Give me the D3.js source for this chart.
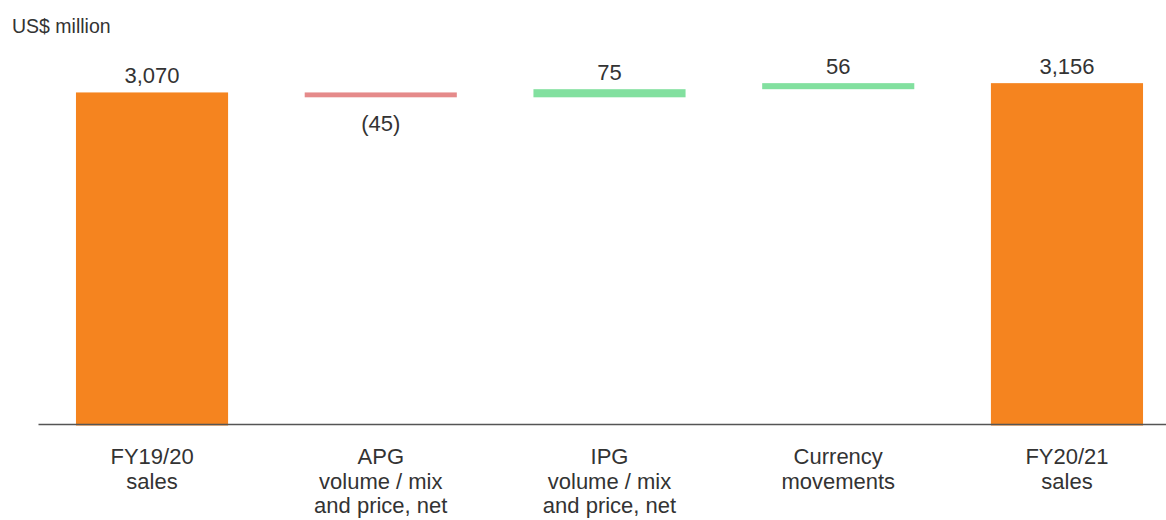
<!DOCTYPE html>
<html>
<head>
<meta charset="utf-8">
<script src="https://cdn.jsdelivr.net/npm/d3@7"></script>
<style>
  body { margin: 0; background: #fff; }
  svg { display: block; font-family: "Liberation Sans", Arial, Helvetica, sans-serif; }
</style>
</head>
<body>
<div id="chart"></div>
<script>
const categories = [
  ["FY19/20", "sales"],
  ["APG", "volume / mix", "and price, net"],
  ["IPG", "volume / mix", "and price, net"],
  ["Currency", "movements"],
  ["FY20/21", "sales"]
];
const values = [3070, -45, 75, 56, 3156];
const kinds = ["total", "delta", "delta", "delta", "total"];
const valueLabels = ["3,070", "(45)", "75", "56", "3,156"];
const unitLabel = "US$ million";

const width = 1166;
const height = 520;

const colors = { total: "#f5841f", up: "#82e09f", down: "#e58a8a" };
const textColor = "#333";

// build waterfall steps
let running = 0;
const steps = values.map((v, i) => {
  let start, end;
  if (kinds[i] === "total") {
    start = 0;
    end = v;
    running = v;
  } else {
    start = running;
    end = running + v;
    running = end;
  }
  return {
    key: i,
    lines: categories[i],
    label: valueLabels[i],
    kind: kinds[i],
    value: v,
    lo: Math.min(start, end),
    hi: Math.max(start, end)
  };
});

const svg = d3.select("#chart")
  .append("svg")
  .attr("width", width)
  .attr("height", height);

const x = d3.scaleBand()
  .domain(steps.map(d => d.key))
  .range([38, 1181])
  .paddingInner(0.335)
  .paddingOuter(0.166);

const y = d3.scaleLinear()
  .domain([0, 3000])
  .range([424, 100]);

svg.append("text")
  .attr("x", 12)
  .attr("y", 33)
  .attr("font-size", 19.5)
  .attr("fill", textColor)
  .text(unitLabel);

svg.selectAll("rect.bar")
  .data(steps)
  .enter()
  .append("rect")
  .attr("class", "bar")
  .attr("x", d => x(d.key))
  .attr("width", x.bandwidth())
  .attr("y", d => y(d.hi))
  .attr("height", d => y(d.lo) - y(d.hi) + (d.kind === "total" ? 1.5 : 0))
  .attr("fill", d => d.kind === "total" ? colors.total : (d.value < 0 ? colors.down : colors.up));

svg.selectAll("text.value")
  .data(steps)
  .enter()
  .append("text")
  .attr("class", "value")
  .attr("x", d => x(d.key) + x.bandwidth() / 2)
  .attr("y", d => d.value < 0 ? y(d.lo) + 34 : y(d.hi) - 9)
  .attr("text-anchor", "middle")
  .attr("font-size", 22)
  .attr("fill", textColor)
  .text(d => d.label);

const xAxis = svg.append("g")
  .attr("transform", `translate(0,${y(0)})`)
  .call(d3.axisBottom(x).tickSize(0).tickFormat(""));

xAxis.select(".domain")
  .attr("stroke", "#555")
  .attr("stroke-width", 1.5);

xAxis.selectAll(".tick text").remove();

xAxis.selectAll(".tick")
  .append("text")
  .attr("text-anchor", "middle")
  .attr("font-size", 22)
  .attr("fill", textColor)
  .each(function (d) {
    const t = d3.select(this);
    steps[d].lines.forEach((line, i) => {
      t.append("tspan")
        .attr("x", 0)
        .attr("y", 40 + i * 24.5)
        .text(line);
    });
  });
</script>
</body>
</html>
